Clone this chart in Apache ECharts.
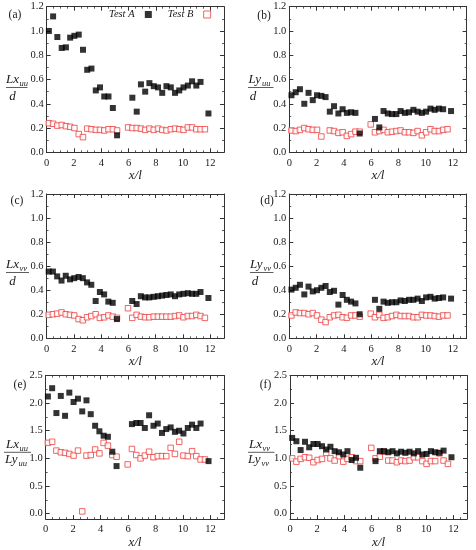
<!DOCTYPE html>
<html><head><meta charset="utf-8">
<script src="https://cdn.jsdelivr.net/npm/echarts@6/dist/echarts.min.js"></script>
<style>html,body{margin:0;padding:0;background:#fff}#c{width:476px;height:550px}</style>
</head><body><div id="c"></div>
<script>
// x/l positions of the measurement stations (shared by all panels)
const xPos = [0.16,0.47,0.78,1.10,1.41,1.72,2.03,2.35,2.66,2.97,3.28,3.60,3.91,4.22,4.53,4.85,5.16,
  5.97,6.28,6.60,6.91,7.22,7.53,7.85,8.16,8.47,8.78,9.10,9.41,9.72,10.03,10.35,10.66,10.97,11.28,11.60,11.86];
// (a) Lx_uu / d
const lxuuA = [1.00,1.12,0.95,0.86,0.865,0.945,0.96,0.97,0.845,0.68,0.69,0.51,0.535,0.46,0.46,0.365,0.14,
  null,0.45,0.335,0.56,0.50,0.57,0.545,0.535,0.49,0.545,0.535,0.49,0.51,0.535,0.55,0.585,0.55,0.58,null,0.32];
const lxuuB = [0.24,0.235,0.22,0.225,0.215,0.21,0.20,0.15,0.125,0.195,0.19,0.185,0.185,0.18,0.19,0.19,0.18,
  0.205,0.20,0.20,0.195,0.185,0.195,0.185,0.195,0.185,0.18,0.19,0.195,0.19,0.185,0.205,0.205,0.19,0.19,0.19,null];
// (b) Ly_uu / d
const lyuuA = [0.47,0.495,0.52,0.40,0.49,0.43,0.47,0.465,0.455,0.335,0.38,0.32,0.355,0.325,0.33,0.325,0.155,
  null,0.275,0.205,0.34,0.32,0.315,0.315,0.34,0.325,0.33,0.35,0.335,0.325,0.335,0.36,0.35,0.36,0.355,null,0.34];
const lyuuB = [0.18,0.175,0.185,0.20,0.19,0.185,0.185,0.13,null,0.18,0.175,0.16,0.165,0.135,0.15,0.17,0.17,
  0.23,0.165,0.175,0.185,0.165,0.17,0.175,0.18,0.165,0.165,0.16,0.175,0.14,0.165,0.19,0.175,0.175,0.185,0.19,null];
// (c) Lx_vv / d
const lxvvA = [0.555,0.555,0.515,0.48,0.52,0.49,0.50,0.51,0.50,0.465,0.445,0.31,0.385,0.365,0.305,0.295,0.16,
  null,0.31,0.285,0.35,0.34,0.34,0.345,0.35,0.355,0.36,0.365,0.35,0.365,0.37,0.375,0.37,0.37,0.385,null,0.335];
const lxvvB = [0.195,0.20,0.205,0.215,0.20,0.195,0.19,0.16,0.15,0.175,0.185,0.20,0.17,0.175,0.19,0.18,0.17,
  0.25,0.17,0.195,0.18,0.175,0.175,0.18,0.18,0.18,0.18,0.18,0.185,0.19,0.175,0.185,0.185,0.195,0.185,0.17,null];
// (d) Ly_vv / d
const lyvvA = [0.405,0.42,0.445,0.365,0.43,0.39,0.40,0.42,0.435,0.385,0.395,0.28,0.36,0.32,0.305,0.29,0.20,
  null,0.32,0.245,0.305,0.295,0.30,0.30,0.315,0.31,0.32,0.32,0.33,0.31,0.34,0.345,0.33,0.335,0.34,null,0.33];
const lyvvB = [0.19,0.215,0.21,0.21,0.20,0.21,0.19,0.155,0.135,0.175,0.19,0.195,0.175,0.17,0.19,0.19,0.18,
  0.205,0.175,0.195,0.17,0.175,0.185,0.195,0.185,0.185,0.185,0.175,0.175,0.195,0.19,0.19,0.185,0.18,0.19,0.19,null];
// (e) Lx_uu / Ly_uu
const ratioUA = [2.12,2.27,1.82,2.13,1.77,2.19,2.02,2.08,1.85,2.05,1.80,1.59,1.49,1.41,1.39,1.12,0.86,
  null,1.62,1.64,1.64,1.55,1.78,1.59,1.63,1.46,1.53,1.56,1.48,1.50,1.45,1.55,1.61,1.55,1.63,null,0.95];
const ratioUB = [1.28,1.30,1.14,1.11,1.10,1.08,1.05,1.14,0.04,1.05,1.06,1.16,1.09,1.28,1.23,1.06,1.03,
  0.89,1.17,1.06,1.00,1.05,1.12,1.02,1.04,1.04,1.04,1.19,1.08,1.30,1.05,1.04,1.13,1.04,0.98,0.98,null];
// (f) Lx_vv / Ly_vv
const ratioVA = [1.37,1.31,1.15,1.30,1.20,1.26,1.26,1.22,1.16,1.21,1.13,1.11,1.07,1.13,0.97,1.01,0.83,
  null,0.95,1.13,1.13,1.11,1.13,1.09,1.12,1.10,1.12,1.09,1.13,1.07,1.08,1.13,1.11,1.10,1.14,null,1.02];
const ratioVB = [1.00,0.94,0.99,1.02,1.01,0.93,0.97,0.99,1.10,1.00,0.96,1.04,0.94,0.99,1.02,0.95,0.95,
  1.19,1.00,1.03,1.12,0.96,0.96,0.93,0.96,0.95,0.96,1.02,1.02,0.95,0.90,0.95,0.95,1.09,0.96,0.90,null];

const seriesNames = ['Test A', 'Test B'];
const panelLabels = ['(a)','(b)','(c)','(d)','(e)','(f)'];
const xTicks = [0,2,4,6,8,10,12];
const xMinorTicks = [0.5,1,1.5,2.5,3,3.5,4.5,5,5.5,6.5,7,7.5,8.5,9,9.5,10.5,11,11.5,12.5];
const yTicksL = [0,0.2,0.4,0.6,0.8,1.0,1.2];
const yMinorTicksL = [0.1,0.3,0.5,0.7,0.9,1.1];
const yTicksR = [0,0.5,1.0,1.5,2.0,2.5];
const yMinorTicksR = [0.25,0.75,1.25,1.75,2.25];
const xTitle = 'x/l';
// fraction titles: [numMain, numSub, denMain, denSub]
const yTitles = [['Lx','uu','d',''],['Ly','uu','d',''],['Lx','vv','d',''],['Ly','vv','d',''],
  ['Lx','uu','Ly','uu'],['Lx','vv','Ly','vv']];

const dataA = [lxuuA, lyuuA, lxvvA, lyvvA, ratioUA, ratioVA];
const dataB = [lxuuB, lyuuB, lxvvB, lyvvB, ratioUB, ratioVB];

// ---------- layout / style ----------
const FONT = '"Liberation Serif","Times New Roman",serif';
const INK = '#1a1a1a';
const RED = '#ef3e3e';
const boxes = [
  {left:46.7, top:6.7, width:177.3, height:145.6},
  {left:289.3, top:6.7, width:177.3, height:145.6},
  {left:46.5, top:194, width:177.5, height:144.3},
  {left:289.3, top:194, width:177.3, height:144.3},
  {left:45.7, top:375.5, width:178.5, height:143.8},
  {left:290, top:375.5, width:177, height:143.8}
];
const xRange = {min: 0, max: 13};
const yRanges = [
  {min:0, max:1.2, t: yTicksL, m: yMinorTicksL}, {min:0, max:1.2, t: yTicksL, m: yMinorTicksL},
  {min:0, max:1.2, t: yTicksL, m: yMinorTicksL}, {min:0, max:1.2, t: yTicksL, m: yMinorTicksL},
  {min:-0.1, max:2.5, t: yTicksR, m: yMinorTicksR}, {min:-0.1, max:2.5, t: yTicksR, m: yMinorTicksR}
];
const labelPos = [[15,15],[264,16],[17,201],[267,201],[20,385],[265.5,385]];
const fracPos = [ // x left of numerator, y of fraction line, line x1, line x2, den x center
  [6, 87.5, 6, 27.5, 12.5], [248.5, 87.5, 248, 273.5, 253],
  [6, 272.5, 6, 29, 12.5], [250, 272.5, 250, 273.5, 255],
  [6, 452.3, 4, 31, 17], [249, 452.3, 248, 274.5, 261]
];

function pts(arr) {
  const out = [];
  arr.forEach((v, i) => { if (v !== null) out.push([xPos[i], v]); });
  return out;
}

const grid = [], xAxis = [], yAxis = [], series = [], graphic = [];
const lineStyle = {color: '#333', width: 1};
const labelBase = {fontSize: 10.5, fontFamily: FONT, color: INK};

function makeAxes(list, gi, min, max, majors, minors, positions, labelCfg, extra) {
  const idx = [];
  positions.forEach((pos, pi) => {
    const showLabel = pi === 0;
    idx.push(list.length);
    list.push(Object.assign({
      type: 'value', gridIndex: gi, min, max, position: pos,
      axisLine: {show: true, onZero: false, lineStyle},
      axisTick: {show: true, inside: true, length: 4, lineStyle, customValues: majors},
      axisLabel: showLabel ? Object.assign({show: true, customValues: majors}, labelCfg) : {show: false},
      splitLine: {show: false}
    }, showLabel ? extra : {}));
    list.push({
      type: 'value', gridIndex: gi, min, max, position: pos,
      axisLine: {show: false, onZero: false},
      axisTick: {show: true, inside: true, length: 2, lineStyle: {color: '#333', width: 0.8}, customValues: minors},
      axisLabel: {show: false}, splitLine: {show: false}
    });
  });
  return idx[0];
}

boxes.forEach((b, gi) => {
  grid.push(Object.assign({containLabel: false}, b));
  const xi = makeAxes(xAxis, gi, xRange.min, xRange.max, xTicks, xMinorTicks, ['bottom', 'top'],
    Object.assign({margin: 5, formatter: v => String(v)}, labelBase),
    {name: xTitle, nameLocation: 'middle', nameGap: 14,
     nameTextStyle: {fontFamily: FONT, fontStyle: 'italic', fontSize: 13, color: INK}});
  const r = yRanges[gi];
  const yi = makeAxes(yAxis, gi, r.min, r.max, r.t, r.m, ['left', 'right'],
    Object.assign({margin: 3, formatter: v => v.toFixed(1)}, labelBase), {});

  series.push({
    type: 'scatter', name: seriesNames[0], xAxisIndex: xi, yAxisIndex: yi,
    symbol: 'rect', symbolSize: 6, data: pts(dataA[gi]),
    itemStyle: {color: '#000'}, z: 3
  });
  series.push({
    type: 'scatter', name: seriesNames[1], xAxisIndex: xi, yAxisIndex: yi,
    symbol: 'rect', symbolSize: 5.5, data: pts(dataB[gi]),
    itemStyle: {color: '#fff', borderColor: RED, borderWidth: 1}, z: 2
  });

  // panel label
  graphic.push({type: 'text', x: labelPos[gi][0], y: labelPos[gi][1], silent: true,
    style: {text: panelLabels[gi], fontFamily: FONT, fontSize: 11.5, fill: INK,
      align: 'center', verticalAlign: 'middle', textAlign: 'center', textVerticalAlign: 'middle'}});

  // fraction y title
  const t = yTitles[gi], fp = fracPos[gi];
  const mainSize = 13, subSize = 8.5;
  const mainStyle = (txt) => ({text: txt, fontFamily: FONT, fontStyle: 'italic', fontSize: mainSize, fill: INK,
    align: 'left', verticalAlign: 'middle', textAlign: 'left', textVerticalAlign: 'middle'});
  const subStyle = (txt) => ({text: txt, fontFamily: FONT, fontStyle: 'italic', fontSize: subSize, fill: INK,
    align: 'left', verticalAlign: 'middle', textAlign: 'left', textVerticalAlign: 'middle'});
  const numY = fp[1] - 7.5, denY = fp[1] + 9.5;
  graphic.push({type: 'text', x: fp[0], y: numY, silent: true, style: mainStyle(t[0])});
  graphic.push({type: 'text', x: fp[0] + 13.5, y: numY + 3.5, silent: true, style: subStyle(t[1])});
  graphic.push({type: 'line', silent: true, shape: {x1: fp[2], y1: fp[1], x2: fp[3], y2: fp[1]},
    style: {stroke: '#333', lineWidth: 0.8}});
  if (t[3]) {
    graphic.push({type: 'text', x: fp[0] - 1, y: denY - 2, silent: true, style: mainStyle(t[2])});
    graphic.push({type: 'text', x: fp[0] + 12.5, y: denY + 1.5, silent: true, style: subStyle(t[3])});
  } else {
    graphic.push({type: 'text', x: fp[4], y: denY, silent: true,
      style: Object.assign(mainStyle(t[2]), {align: 'center', textAlign: 'center'})});
  }
});

const chart = echarts.init(document.getElementById('c'), null, {renderer: 'canvas'});
chart.setOption({
  animation: false,
  backgroundColor: '#fff',
  grid, xAxis, yAxis, series, graphic,
  legend: {
    show: true, left: 109, top: 9, align: 'right', orient: 'horizontal',
    itemWidth: 7, itemHeight: 7, itemGap: 16, padding: 0,
    data: [{name: seriesNames[0], icon: 'rect', itemStyle: {borderWidth: 0}},
           {name: seriesNames[1], icon: 'rect', itemStyle: {color: '#fff', borderColor: RED, borderWidth: 1}}],
    formatter: n => n + '  ',
    textStyle: {fontFamily: FONT, fontStyle: 'italic', fontSize: 10.5, color: INK}
  }
});
</script></body></html>
